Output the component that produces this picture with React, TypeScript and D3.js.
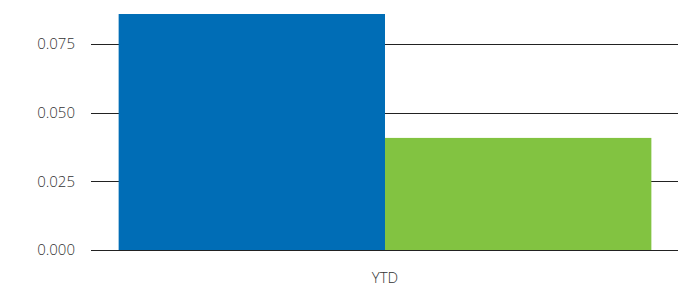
import React from "react";
import * as d3 from "d3";

const categories = ["YTD"];
const seriesNames = ["Series A", "Series B"];
const seriesValues = [[0.0859], [0.0408]];
const yTicks = [0, 0.025, 0.05, 0.075];
const colors = ["#006db6", "#82c341"];

const width = 678;
const height = 286;
const margin = { top: 0, right: 0, bottom: 36, left: 92 };

export default function App() {
  const x0 = d3
    .scaleBand()
    .domain(categories)
    .range([margin.left, width - margin.right])
    .paddingInner(0)
    .paddingOuter(0.05);

  const x1 = d3
    .scaleBand()
    .domain(seriesNames)
    .range([0, x0.bandwidth()])
    .padding(0);

  const y = d3
    .scaleLinear()
    .domain([0, 0.091])
    .range([height - margin.bottom, 0]);

  return (
    <svg
      width={width}
      height={height}
      style={{ position: "absolute", left: 0, top: 0 }}
      fontFamily="'Open Sans', sans-serif"
    >
      {yTicks.map((t) => (
        <g key={t}>
          <line
            x1={margin.left - 1}
            x2={width}
            y1={Math.round(y(t)) + 0.5}
            y2={Math.round(y(t)) + 0.5}
            stroke="#222"
            strokeWidth={1}
          />
          <text
            x={75}
            y={y(t)}
            dy="0.35em"
            textAnchor="end"
            fontSize={15}
            fontWeight={300}
            fill="#333"
          >
            {d3.format(".3f")(t)}
          </text>
        </g>
      ))}
      {categories.map((c, ci) => (
        <g key={c} transform={`translate(${x0(c)},0)`}>
          {seriesNames.map((s, si) => (
            <rect
              key={s}
              x={x1(s)}
              y={y(seriesValues[si][ci])}
              width={x1.bandwidth()}
              height={y(0) - y(seriesValues[si][ci])}
              fill={colors[si]}
            />
          ))}
          <text
            x={x0.bandwidth() / 2}
            y={278}
            dy="0.35em"
            textAnchor="middle"
            fontSize={15}
            fontWeight={300}
            fill="#333"
          >
            {c}
          </text>
        </g>
      ))}
    </svg>
  );
}
